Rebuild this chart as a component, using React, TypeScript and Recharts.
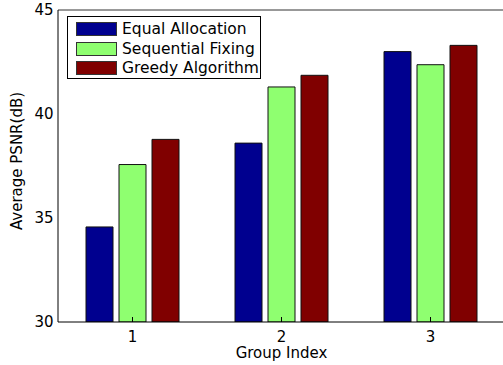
import { BarChart, Bar, XAxis, YAxis, Legend } from "recharts";

const groups = ["1", "2", "3"];
const seriesNames = ["Equal Allocation", "Sequential Fixing", "Greedy Algorithm"];
const equalAllocation = [34.57, 38.6, 43.0];
const sequentialFixing = [37.57, 41.3, 42.37];
const greedyAlgorithm = [38.78, 41.86, 43.3];
const yTicks = [30, 35, 40, 45];

const colors = ["#00008f", "#8fff70", "#800000"];
const keys = ["equal", "sequential", "greedy"];
const FONT = "'DejaVu Sans', sans-serif";

const data = groups.map((g, i) => ({
  group: g,
  equal: equalAllocation[i],
  sequential: sequentialFixing[i],
  greedy: greedyAlgorithm[i],
}));

function LegendBox() {
  return (
    <div
      style={{
        border: "1px solid #000",
        background: "#fff",
        width: 192,
        height: 61,
        boxSizing: "content-box",
        fontFamily: FONT,
        fontSize: 15.5,
        color: "#000",
      }}
    >
      {seriesNames.map((name, i) => (
        <div
          key={name}
          style={{ display: "flex", alignItems: "center", height: 19.7, marginTop: i === 0 ? 2 : 0 }}
        >
          <span
            style={{
              display: "inline-block",
              width: 39,
              height: 12,
              marginLeft: 8,
              marginRight: 5,
              background: colors[i],
              border: "1px solid #333",
            }}
          />
          <span style={{ whiteSpace: "nowrap", lineHeight: "16px" }}>{name}</span>
        </div>
      ))}
    </div>
  );
}

export default function App() {
  return (
    <div style={{ position: "absolute", left: 0, top: 0, width: 503, height: 365, overflow: "hidden", background: "#fff" }}>
      <BarChart
        width={510}
        height={365}
        data={data}
        margin={{ top: 0, right: 0, bottom: 0, left: 0 }}
        barSize={27}
        barGap={6}
      >
        <XAxis
          dataKey="group"
          height={43}
          stroke="#000"
          tickSize={-5}
          tickMargin={14}
          tick={{ fill: "#000", fontSize: 15, fontFamily: FONT }}
          label={{ value: "Group Index", position: "insideBottom", offset: 7, fill: "#000", fontSize: 15, fontFamily: FONT }}
        />
        <XAxis xAxisId="top" dataKey="group" orientation="top" height={10} stroke="#333" tickSize={-5} tick={false} />
        <YAxis
          domain={[30, 45]}
          ticks={yTicks}
          width={58}
          stroke="#000"
          tickLine={false}
          tickSize={0}
          tickMargin={4.5}
          allowDataOverflow
          tick={{ fill: "#000", fontSize: 15, fontFamily: FONT }}
        />
        <YAxis
          yAxisId="right"
          orientation="right"
          domain={[30, 45]}
          ticks={yTicks}
          width={5}
          stroke="#555"
          axisLine={false}
          tickSize={-4}
          tick={false}
          allowDataOverflow
        />
        <Legend
          verticalAlign="middle"
          layout="horizontal"
          content={() => <LegendBox />}
          wrapperStyle={{ left: 67, top: 16, width: 194 }}
        />
        {keys.map((k, i) => (
          <Bar
            key={k}
            dataKey={k}
            name={seriesNames[i]}
            fill={colors[i]}
            stroke="#111"
            strokeWidth={1}
            isAnimationActive={false}
          />
        ))}
      </BarChart>
      <div
        style={{
          position: "absolute",
          left: 17 - 100,
          top: 161 - 10,
          width: 200,
          height: 20,
          lineHeight: "20px",
          textAlign: "center",
          transform: "rotate(-90deg)",
          fontFamily: FONT,
          fontSize: 15,
          color: "#000",
          whiteSpace: "nowrap",
        }}
      >
        Average PSNR(dB)
      </div>
    </div>
  );
}
